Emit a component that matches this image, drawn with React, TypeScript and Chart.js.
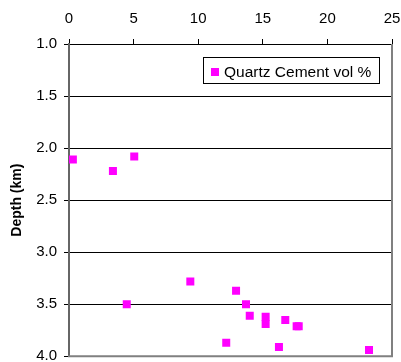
import React, { useEffect, useRef } from "react";
import { Chart, registerables } from "chart.js";

Chart.register(...registerables);

const quartzCement = [0.3, 3.4, 5.05, 4.47, 9.39, 12.93, 13.7, 13.99, 15.22, 15.22, 16.74, 17.62, 17.78, 12.17, 16.25, 23.22];
const depthKm = [2.11, 2.22, 2.08, 3.5, 3.28, 3.37, 3.5, 3.61, 3.62, 3.69, 3.65, 3.71, 3.71, 3.87, 3.91, 3.94];
const xTicks = [0, 5, 10, 15, 20, 25];
const yTicks = [1.0, 1.5, 2.0, 2.5, 3.0, 3.5, 4.0];
const seriesLabel = "Quartz Cement vol %";
const yTitle = "Depth (km)";

const FONT = "'Liberation Sans', Arial, sans-serif";

export default function App() {
  const ref = useRef<HTMLCanvasElement | null>(null);
  useEffect(() => {
    const canvas = ref.current;
    if (!canvas) return;
    const overlay = {
      id: "overlay",
      afterDraw(chart: any) {
        const { ctx, chartArea } = chart;
        const { left, right, top, bottom } = chartArea;
        ctx.save();
        ctx.strokeStyle = "#808080";
        ctx.lineWidth = 2;
        ctx.beginPath();
        ctx.moveTo(right, top);
        ctx.lineTo(right, bottom);
        ctx.moveTo(left - 1, bottom);
        ctx.lineTo(right + 1, bottom);
        ctx.stroke();
        // legend
        const lx = 203.5, ly = 57.5, lw = 176, lh = 26;
        ctx.fillStyle = "#fff";
        ctx.fillRect(lx, ly, lw, lh);
        ctx.strokeStyle = "#000";
        ctx.lineWidth = 1;
        ctx.strokeRect(lx, ly, lw, lh);
        ctx.fillStyle = "#FF00FF";
        ctx.fillRect(211, 68, 8, 8);
        ctx.fillStyle = "#000";
        ctx.font = `15.5px ${FONT}`;
        ctx.textBaseline = "alphabetic";
        ctx.textAlign = "left";
        ctx.fillText(seriesLabel, 224, 77);
        ctx.restore();
      },
    };
    const chart = new Chart(canvas, {
      type: "scatter",
      data: {
        datasets: [
          {
            label: seriesLabel,
            data: quartzCement.map((x, i) => ({ x, y: depthKm[i] })),
            pointStyle: "rect",
            pointRadius: 5.66,
            pointHoverRadius: 5.66,
            backgroundColor: "#FF00FF",
            borderWidth: 0,
          },
        ],
      },
      options: {
        responsive: false,
        animation: false,
        events: [],
        layout: { padding: { left: 0, right: 9, top: 0, bottom: 5 } },
        plugins: { legend: { display: false }, tooltip: { enabled: false } },
        scales: {
          x: {
            type: "linear",
            position: "top",
            min: xTicks[0],
            max: xTicks[xTicks.length - 1],
            afterBuildTicks: (axis: any) => {
              axis.ticks = xTicks.map((v) => ({ value: v }));
            },
            afterFit: (axis: any) => {
              axis.height = 44;
              axis.paddingLeft = 0;
              axis.paddingRight = 0;
            },
            ticks: {
              color: "#000",
              font: { family: FONT, size: 15 },
              padding: 11,
              maxRotation: 0,
              callback: (v: any) => String(v),
            },
            grid: { drawOnChartArea: false, drawTicks: true, tickLength: 5, color: "#000", lineWidth: 1 },
            border: { display: true, color: "#000", width: 1 },
          },
          y: {
            type: "linear",
            reverse: true,
            min: yTicks[0],
            max: yTicks[yTicks.length - 1],
            afterBuildTicks: (axis: any) => {
              axis.ticks = yTicks.map((v) => ({ value: v }));
            },
            afterFit: (axis: any) => {
              axis.width = 69;
              axis.paddingTop = 0;
              axis.paddingBottom = 0;
            },
            title: {
              display: true,
              text: yTitle,
              color: "#000",
              font: { family: FONT, size: 14, weight: "bold" },
              padding: { top: 9, bottom: 0 },
            },
            ticks: {
              color: "#000",
              font: { family: FONT, size: 15 },
              padding: 7,
              callback: (v: any) => Number(v).toFixed(1),
            },
            grid: { drawTicks: true, tickLength: 5, color: "#000", lineWidth: 1 },
            border: { display: true, color: "#666", width: 2 },
          },
        },
      },
      plugins: [overlay],
    } as any);
    return () => chart.destroy();
  }, []);
  return (
    <div style={{ position: "fixed", left: 0, top: 0, width: 401, height: 362, background: "#fff" }}>
      <canvas ref={ref} width={401} height={362} style={{ display: "block", width: 401, height: 362 }} />
    </div>
  );
}
